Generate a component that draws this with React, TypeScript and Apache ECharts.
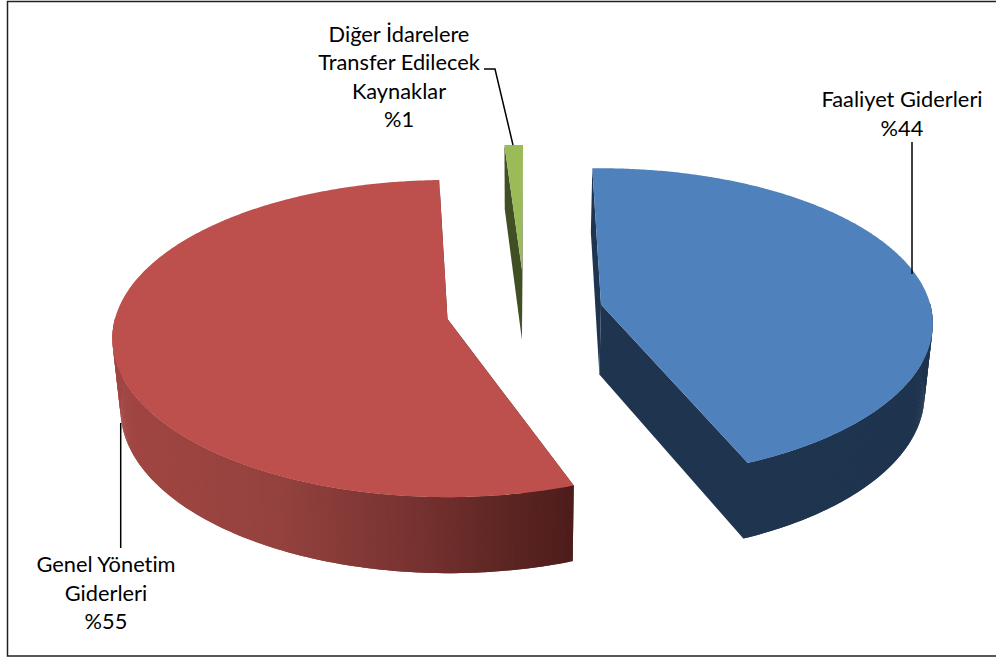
import React, { useEffect, useRef } from "react";
import * as echarts from "echarts";

const sliceNames = ["Faaliyet Giderleri", "Genel Yönetim\nGiderleri", "Diğer İdarelere\nTransfer Edilecek\nKaynaklar"];
const sliceValues = [44, 55, 1];
const topColors = ["#4f81bd", "#bd4f4c", "#9bbb59"];
const sideColors = ["#1f344f", "#8a3d3a", "#414f24"];
const redSideStops: [number, number[]][] = [
  [112, [162, 70, 67]],
  [280, [148, 66, 62]],
  [420, [118, 50, 48]],
  [520, [90, 36, 33]],
  [574, [78, 29, 27]],
];

// projection of the pie's plane
const D = 8.1;
const F = 2694;
const CF = 1265;
const VP_X = 520;
const SIDE_SCALE = 0.98;
const apexes = [[601, 304.5], [447.5, 319], [522, 270]];
const twists = [-1.7, 2, 0.2];
const xScales = [0.99, 1, 1];
const yScales = [0.98, 1, 0.9];
const labelAnchors = [[902, 113], [106, 592], [399, 76]];
const leaderLines = [
  [[912, 142], [912, 274]],
  [[120.7, 423], [120.7, 548]],
  [[484, 69], [495, 69], [513, 145]],
];

function top(i: number, deg: number): number[] {
  const t = (deg * Math.PI) / 180;
  const x = Math.sin(t);
  const z = -Math.cos(t);
  const s = 1 / (D - z);
  return [apexes[i][0] + x * F * s * xScales[i], apexes[i][1] + z * CF * s * yScales[i]];
}
function lower(i: number, deg: number): number[] {
  const t = (deg * Math.PI) / 180;
  const z = -Math.cos(t);
  const p = top(i, deg);
  return [VP_X + (p[0] - VP_X) * SIDE_SCALE, p[1] + 70 + 6 * z];
}
function lowerApex(i: number): number[] {
  const a = apexes[i];
  return [VP_X + (a[0] - VP_X) * SIDE_SCALE, a[1] + 70];
}
function redSide(x: number): string {
  const s = redSideStops;
  let k = 0;
  while (k < s.length - 2 && x > s[k + 1][0]) k++;
  const t = Math.max(0, Math.min(1, (x - s[k][0]) / (s[k + 1][0] - s[k][0])));
  const c = s[k][1].map((v, j) => Math.round(v + (s[k + 1][1][j] - v) * t));
  return `rgb(${c[0]},${c[1]},${c[2]})`;
}

export default function App() {
  const ref = useRef<HTMLDivElement>(null);
  useEffect(() => {
    const chart = echarts.init(ref.current!, undefined, { renderer: "svg" });
    const total = sliceValues.reduce((a, b) => a + b, 0);
    const renderItem = (params: any, api: any) => {
      const i = params.dataIndex;
      let before = 0;
      for (let k = 0; k < i; k++) before += sliceValues[k];
      const value = api.value(0);
      const a0 = (before / total) * 360 + twists[i];
      const a1 = ((before + value) / total) * 360 + twists[i];
      const n = Math.max(8, Math.round(a1 - a0) * 2);
      const angles: number[] = [];
      const topArc: number[][] = [];
      const lowArc: number[][] = [];
      for (let k = 0; k <= n; k++) {
        const a = a0 + ((a1 - a0) * k) / n;
        angles.push(a);
        topArc.push(top(i, a));
        lowArc.push(lower(i, a));
      }
      const apex = apexes[i];
      const lowA = lowerApex(i);
      const children: any[] = [];
      const quad = (p: number[], q: number[], r: number[], s: number[], fill: string) => ({
        type: "polygon",
        shape: { points: [p, q, r, s] },
        style: { fill },
      });
      const cutFill = i === 1 ? "#4e1d1b" : sideColors[i];
      children.push(quad(apex, topArc[0], lowArc[0], lowA, cutFill));
      children.push(quad(apex, topArc[n], lowArc[n], lowA, cutFill));
      // outer rim on the near half of the pie: overlapping strips hide the seams
      const strips: any[] = [];
      for (let k = 0; k < n; k++) {
        if (Math.cos((angles[k] * Math.PI) / 180) > 0.02) continue;
        const e = Math.min(n, k + 2);
        if (Math.cos((angles[e] * Math.PI) / 180) > 0.02) continue;
        const fill = i === 1 ? redSide((topArc[k][0] + topArc[k + 1][0]) / 2) : sideColors[i];
        strips.push(quad(topArc[k], topArc[e], lowArc[e], lowArc[k], fill));
      }
      // the red strips darken to the right, so they are laid from the lighter end
      children.push(...(i === 1 ? strips.reverse() : strips));
      // closes the hairline between the cut face and the rim
      if (i === 0) {
        children.push({
          type: "line",
          shape: { x1: topArc[n][0], y1: topArc[n][1], x2: lowArc[n][0], y2: lowArc[n][1] - 1 },
          style: { stroke: sideColors[i], lineWidth: 1.2 },
        });
      }
      // top face
      children.push({
        type: "polygon",
        shape: { points: [apex].concat(topArc) },
        style: { fill: topColors[i] },
      });
      // leader line
      children.push({
        type: "polyline",
        shape: { points: leaderLines[i] },
        style: { fill: "none", stroke: "#000", lineWidth: 1.5 },
      });
      // label
      children.push({
        type: "text",
        style: {
          text: sliceNames[i] + "\n%" + value,
          x: labelAnchors[i][0],
          y: labelAnchors[i][1],
          textAlign: "center",
          textVerticalAlign: "middle",
          fill: "#000",
          font: '21.8px Lato, "Noto Sans", sans-serif',
          lineHeight: 28.3,
        },
      });
      return { type: "group", children };
    };
    chart.setOption({
      animation: false,
      backgroundColor: "#fff",
      graphic: [
        {
          type: "rect",
          shape: { x: 7.5, y: 1.5, width: 1000, height: 654.5 },
          style: { fill: "none", stroke: "#222", lineWidth: 1.5 },
          z: 10,
        },
      ],
      series: [
        {
          type: "custom",
          coordinateSystem: "none",
          silent: true,
          clip: false,
          renderItem,
          data: sliceValues.map((v) => [v]),
        },
      ],
    });
    return () => chart.dispose();
  }, []);
  return (
    <>
      <style>{"text{font-variant-ligatures:none !important}"}</style>
      <div ref={ref} style={{ position: "absolute", left: 0, top: 0, width: 996, height: 657 }} />
    </>
  );
}
